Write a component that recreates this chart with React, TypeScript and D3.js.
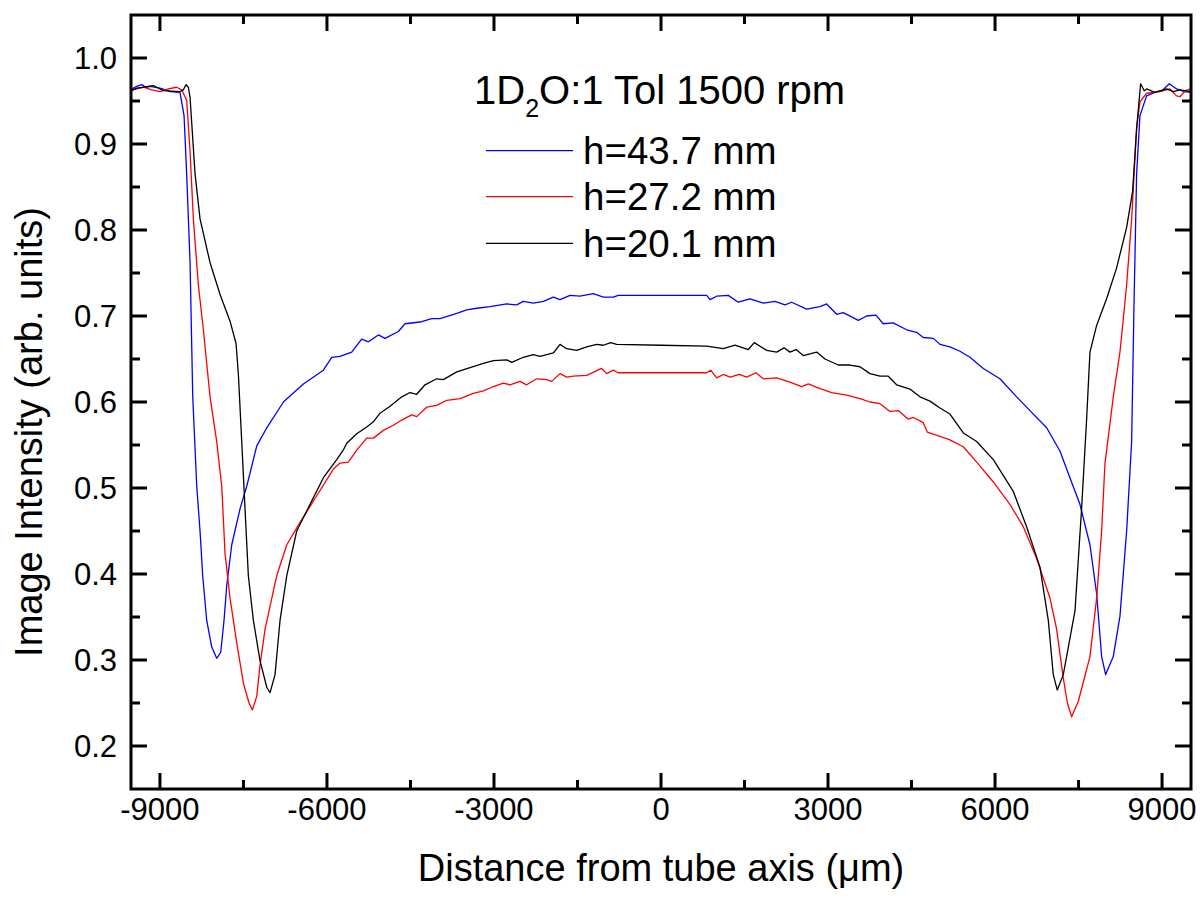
import React from "react";
import * as d3 from "d3";

const xTicks = [-9000, -6000, -3000, 0, 3000, 6000, 9000];
const xMinorTicks = [-7500, -4500, -1500, 1500, 4500, 7500];
const yTicks = [0.2, 0.3, 0.4, 0.5, 0.6, 0.7, 0.8, 0.9, 1.0];
const yMinorTicks = [0.25, 0.35, 0.45, 0.55, 0.65, 0.75, 0.85, 0.95];

const seriesNames = ["h=43.7 mm", "h=27.2 mm", "h=20.1 mm"];
const seriesColors = ["#0000ff", "#ff0000", "#000000"];

const h437: [number, number][] = [
  [-9520, 0.963], [-9506, 0.964], [-9420, 0.967], [-9326, 0.969], [-9250, 0.966], [-9177, 0.967],
  [-9000, 0.965], [-8900, 0.963], [-8818, 0.961], [-8640, 0.960], [-8567, 0.933], [-8520, 0.865],
  [-8459, 0.762], [-8411, 0.606], [-8339, 0.502], [-8280, 0.450], [-8232, 0.398], [-8160, 0.346],
  [-8070, 0.315], [-7980, 0.302], [-7908, 0.309], [-7849, 0.346], [-7800, 0.387], [-7710, 0.434],
  [-7561, 0.476], [-7441, 0.502], [-7261, 0.549], [-7081, 0.570], [-6783, 0.600], [-6424, 0.621],
  [-6064, 0.637], [-5914, 0.652], [-5765, 0.653], [-5556, 0.658], [-5376, 0.673], [-5256, 0.670],
  [-5077, 0.678], [-4957, 0.674], [-4718, 0.682], [-4598, 0.691], [-4328, 0.693], [-4119, 0.697],
  [-3969, 0.697], [-3669, 0.703], [-3490, 0.707], [-3310, 0.709], [-3071, 0.711], [-2771, 0.714],
  [-2592, 0.713], [-2473, 0.717], [-2293, 0.715], [-2113, 0.717], [-1934, 0.722], [-1814, 0.719],
  [-1634, 0.724], [-1455, 0.723], [-1216, 0.726], [-1036, 0.722], [-857, 0.722], [-767, 0.724],
  [821, 0.724], [880, 0.719], [1000, 0.723], [1209, 0.724], [1388, 0.716], [1598, 0.720],
  [1837, 0.715], [2047, 0.717], [2227, 0.713], [2347, 0.716], [2616, 0.708], [2856, 0.711],
  [2976, 0.714], [3156, 0.702], [3275, 0.704], [3544, 0.695], [3694, 0.700], [3861, 0.701],
  [3992, 0.691], [4172, 0.692], [4411, 0.684], [4591, 0.681], [4711, 0.675], [4891, 0.674],
  [5011, 0.667], [5190, 0.664], [5370, 0.659], [5550, 0.652], [5789, 0.639], [6088, 0.627],
  [6388, 0.606], [6627, 0.590], [6927, 0.570], [7166, 0.543], [7345, 0.512], [7525, 0.481],
  [7705, 0.434], [7825, 0.377], [7915, 0.304], [7987, 0.283], [8124, 0.304], [8244, 0.351],
  [8364, 0.450], [8454, 0.554], [8495, 0.709], [8543, 0.865], [8603, 0.933], [8723, 0.956],
  [8903, 0.961], [9000, 0.962], [9130, 0.970], [9262, 0.964], [9400, 0.961], [9520, 0.960],
];

const h272: [number, number][] = [
  [-9520, 0.962], [-9420, 0.964], [-9290, 0.966], [-9150, 0.963], [-9000, 0.961], [-8850, 0.964],
  [-8700, 0.966], [-8610, 0.963], [-8520, 0.951], [-8459, 0.891], [-8400, 0.813], [-8310, 0.736],
  [-8220, 0.684], [-8100, 0.606], [-7980, 0.554], [-7890, 0.502], [-7831, 0.424], [-7741, 0.372],
  [-7621, 0.320], [-7501, 0.273], [-7400, 0.250], [-7340, 0.242], [-7261, 0.258], [-7202, 0.294],
  [-7112, 0.336], [-6902, 0.398], [-6722, 0.434], [-6484, 0.460], [-6184, 0.491], [-5885, 0.522],
  [-5765, 0.529], [-5616, 0.530], [-5466, 0.544], [-5286, 0.558], [-5166, 0.558], [-4987, 0.567],
  [-4807, 0.573], [-4657, 0.579], [-4478, 0.585], [-4388, 0.583], [-4208, 0.594], [-4029, 0.596],
  [-3849, 0.602], [-3610, 0.604], [-3371, 0.610], [-3191, 0.613], [-3011, 0.618], [-2832, 0.622],
  [-2712, 0.620], [-2533, 0.624], [-2413, 0.620], [-2233, 0.627], [-2054, 0.626], [-1964, 0.624],
  [-1814, 0.633], [-1694, 0.629], [-1574, 0.630], [-1335, 0.631], [-1066, 0.639], [-975, 0.633],
  [-857, 0.637], [-767, 0.634], [821, 0.634], [892, 0.637], [1000, 0.628], [1119, 0.632],
  [1239, 0.629], [1407, 0.632], [1539, 0.629], [1706, 0.634], [1837, 0.627], [2078, 0.628],
  [2317, 0.623], [2527, 0.618], [2646, 0.621], [2796, 0.617], [3065, 0.611], [3335, 0.608],
  [3574, 0.604], [3754, 0.600], [3933, 0.598], [4113, 0.589], [4262, 0.590], [4442, 0.580],
  [4532, 0.582], [4711, 0.576], [4783, 0.565], [5011, 0.560], [5190, 0.556], [5430, 0.548],
  [5670, 0.530], [5969, 0.507], [6268, 0.481], [6508, 0.455], [6747, 0.418], [6987, 0.372],
  [7106, 0.336], [7226, 0.279], [7300, 0.250], [7376, 0.234], [7496, 0.252], [7705, 0.304],
  [7825, 0.372], [7915, 0.450], [7974, 0.528], [8124, 0.606], [8244, 0.658], [8364, 0.736],
  [8454, 0.813], [8543, 0.918], [8603, 0.949], [8723, 0.959], [8963, 0.961], [9142, 0.964],
  [9260, 0.956], [9322, 0.955], [9420, 0.962], [9520, 0.964],
];

const h201: [number, number][] = [
  [-9520, 0.962], [-9420, 0.965], [-9300, 0.966], [-9120, 0.968], [-9000, 0.964], [-8940, 0.962],
  [-8640, 0.961], [-8580, 0.963], [-8531, 0.969], [-8490, 0.966], [-8459, 0.954], [-8369, 0.865],
  [-8280, 0.813], [-8100, 0.762], [-7920, 0.725], [-7741, 0.694], [-7633, 0.668], [-7591, 0.632],
  [-7531, 0.554], [-7472, 0.476], [-7412, 0.398], [-7322, 0.346], [-7202, 0.299], [-7080, 0.268],
  [-7022, 0.262], [-6933, 0.283], [-6843, 0.346], [-6722, 0.398], [-6543, 0.450], [-6304, 0.481],
  [-6064, 0.512], [-5825, 0.533], [-5700, 0.545], [-5645, 0.552], [-5466, 0.563], [-5286, 0.571],
  [-5166, 0.577], [-5047, 0.587], [-4867, 0.595], [-4657, 0.606], [-4508, 0.611], [-4388, 0.609],
  [-4239, 0.620], [-4029, 0.627], [-3910, 0.626], [-3669, 0.635], [-3430, 0.640], [-3191, 0.645],
  [-3011, 0.648], [-2771, 0.649], [-2681, 0.646], [-2473, 0.652], [-2293, 0.655], [-2173, 0.653],
  [-1934, 0.657], [-1814, 0.667], [-1694, 0.662], [-1514, 0.660], [-1335, 0.664], [-1155, 0.667],
  [-1036, 0.666], [-903, 0.669], [-796, 0.667], [0, 0.666], [821, 0.665], [1119, 0.662],
  [1329, 0.666], [1568, 0.661], [1676, 0.669], [1898, 0.660], [2078, 0.658], [2209, 0.663],
  [2317, 0.658], [2425, 0.661], [2556, 0.654], [2796, 0.658], [2945, 0.650], [3185, 0.643],
  [3394, 0.643], [3574, 0.641], [3754, 0.633], [3933, 0.630], [4082, 0.630], [4232, 0.620],
  [4472, 0.615], [4652, 0.606], [4831, 0.601], [5011, 0.593], [5190, 0.586], [5430, 0.564],
  [5670, 0.554], [5969, 0.533], [6328, 0.496], [6567, 0.455], [6807, 0.408], [6957, 0.346],
  [7046, 0.283], [7118, 0.265], [7226, 0.283], [7436, 0.357], [7555, 0.476], [7645, 0.580],
  [7705, 0.658], [7825, 0.689], [8004, 0.720], [8184, 0.756], [8364, 0.803], [8471, 0.845],
  [8543, 0.918], [8615, 0.970], [8680, 0.962], [8723, 0.964], [8872, 0.960], [9082, 0.964],
  [9200, 0.961], [9320, 0.963], [9520, 0.961],
];

const allSeries = [h437, h272, h201];

const W = 1200;
const H = 899;
const left = 131, right = 1191, top = 15, bottom = 789;
const FONT = "'Liberation Sans', Arial, Helvetica, sans-serif";

export default function App() {
  const x = d3.scaleLinear().domain([-9520, 9520]).range([left, right]);
  const y = d3.scaleLinear().domain([0.15, 1.05]).range([bottom, top]);
  const line = d3
    .line<[number, number]>()
    .x((d) => x(d[0]))
    .y((d) => y(d[1]));

  const major = 16;
  const minor = 9;
  const legendLineX0 = 486;
  const legendLineX1 = 573;
  const legendRows = [150.7, 196.7, 243.3];

  return (
    <svg
      width={W}
      height={H}
      style={{ position: "absolute", left: 0, top: 0, background: "#fff" }}
      fontFamily={FONT}
    >
      <rect x={0} y={0} width={W} height={H} fill="#fff" />
      <defs>
        <clipPath id="plotclip">
          <rect x={left} y={top} width={right - left} height={bottom - top} />
        </clipPath>
      </defs>

      <g clipPath="url(#plotclip)">
        {allSeries.map((s, i) => (
          <path
            key={i}
            d={line(s) || ""}
            fill="none"
            stroke={seriesColors[i]}
            strokeWidth={1.3}
            strokeLinejoin="round"
          />
        ))}
      </g>

      {/* ticks */}
      <g stroke="#000" strokeWidth={3}>
        {xTicks.map((t) => (
          <g key={"xt" + t}>
            <line x1={x(t)} x2={x(t)} y1={bottom} y2={bottom - major} />
            <line x1={x(t)} x2={x(t)} y1={top} y2={top + major} />
          </g>
        ))}
        {xMinorTicks.map((t) => (
          <g key={"xm" + t}>
            <line x1={x(t)} x2={x(t)} y1={bottom} y2={bottom - minor} />
            <line x1={x(t)} x2={x(t)} y1={top} y2={top + minor} />
          </g>
        ))}
        {yTicks.map((t) => (
          <g key={"yt" + t}>
            <line x1={left} x2={left + major} y1={y(t)} y2={y(t)} />
            <line x1={right} x2={right - major} y1={y(t)} y2={y(t)} />
          </g>
        ))}
        {yMinorTicks.map((t) => (
          <g key={"ym" + t}>
            <line x1={left} x2={left + minor} y1={y(t)} y2={y(t)} />
            <line x1={right} x2={right - minor} y1={y(t)} y2={y(t)} />
          </g>
        ))}
      </g>

      <rect
        x={left}
        y={top}
        width={right - left}
        height={bottom - top}
        fill="none"
        stroke="#000"
        strokeWidth={3}
      />

      {/* tick labels */}
      <g fontSize={31} fill="#000">
        {xTicks.map((t) => (
          <text key={"xl" + t} x={x(t)} y={820} textAnchor="middle">
            {t}
          </text>
        ))}
        {yTicks.map((t) => (
          <text key={"yl" + t} x={117} y={y(t) + 11} textAnchor="end">
            {d3.format(".1f")(t)}
          </text>
        ))}
      </g>

      {/* axis titles */}
      <text x={661} y={881} textAnchor="middle" fontSize={38} fill="#000">
        Distance from tube axis (μm)
      </text>
      <text
        transform={`translate(42, 432) rotate(-90)`}
        textAnchor="middle"
        fontSize={38}
        fill="#000"
      >
        Image Intensity (arb. units)
      </text>

      {/* legend */}
      <text x={474} y={104} fontSize={40} fill="#000">
        1D
        <tspan fontSize={25} dy={13}>2</tspan>
        <tspan dy={-13}>O:1 Tol 1500 rpm</tspan>
      </text>
      {seriesNames.map((n, i) => (
        <g key={n}>
          <line
            x1={legendLineX0}
            x2={legendLineX1}
            y1={legendRows[i]}
            y2={legendRows[i]}
            stroke={seriesColors[i]}
            strokeWidth={1.3}
          />
          <text x={583} y={legendRows[i] + 13.5} fontSize={38.5} fill="#000">
            {n}
          </text>
        </g>
      ))}
    </svg>
  );
}
